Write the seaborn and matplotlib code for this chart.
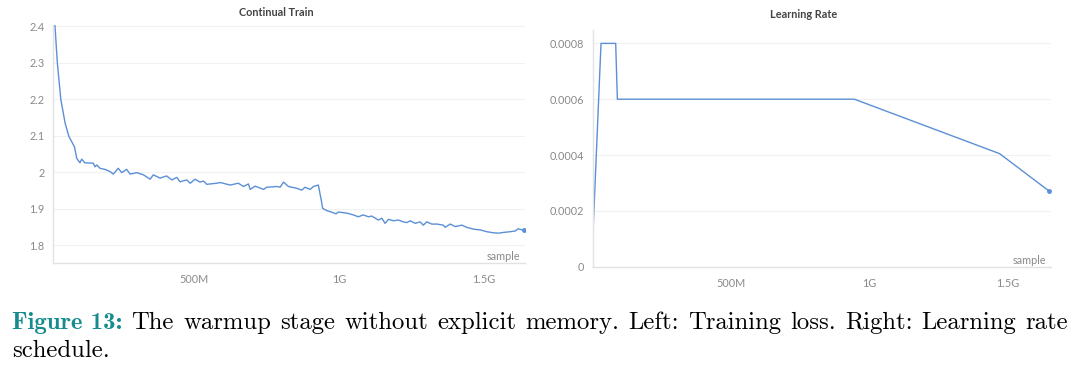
import matplotlib
matplotlib.use("Agg")
import matplotlib.pyplot as plt
import seaborn as sns
import pandas as pd

# ---------------- data (samples in G) ----------------
warm_x = [0.015, 0.020, 0.028, 0.040, 0.055, 0.068, 0.087, 0.095, 0.106, 0.112, 0.123, 0.152,
          0.158, 0.164, 0.175, 0.192, 0.210, 0.221, 0.238, 0.250, 0.267, 0.279, 0.302, 0.325,
          0.348, 0.359, 0.382, 0.405, 0.423, 0.440, 0.451, 0.474, 0.486, 0.503]
warm_y = [2.46, 2.40, 2.30, 2.20, 2.134, 2.098, 2.070, 2.038, 2.026, 2.036, 2.026, 2.025,
          2.015, 2.020, 2.011, 2.008, 2.002, 1.995, 2.011, 1.999, 2.008, 1.995, 1.999, 1.993,
          1.981, 1.993, 1.984, 1.990, 1.979, 1.986, 1.974, 1.979, 1.970, 1.981]
plat_x = [0.520, 0.532, 0.543, 0.578, 0.589, 0.624, 0.652, 0.670, 0.687, 0.693, 0.710, 0.739,
          0.750, 0.785, 0.796, 0.808, 0.825, 0.854, 0.871, 0.882, 0.900, 0.911, 0.928]
plat_y = [1.973, 1.976, 1.967, 1.970, 1.972, 1.965, 1.970, 1.961, 1.968, 1.953, 1.962, 1.953,
          1.959, 1.961, 1.959, 1.973, 1.961, 1.956, 1.951, 1.959, 1.953, 1.961, 1.965]
decay_x = [0.938, 0.943, 0.957, 0.980, 0.989, 0.997, 1.026, 1.049, 1.066, 1.083, 1.101, 1.112,
           1.135, 1.147, 1.158, 1.170, 1.187, 1.204, 1.221, 1.233, 1.245, 1.262, 1.279, 1.290,
           1.302, 1.319, 1.337, 1.359, 1.365, 1.383, 1.400, 1.423, 1.440, 1.463, 1.486, 1.509,
           1.532, 1.549, 1.566, 1.589, 1.607, 1.617, 1.636]
decay_y = [1.924, 1.901, 1.895, 1.889, 1.886, 1.891, 1.888, 1.883, 1.878, 1.883, 1.878, 1.880,
           1.869, 1.874, 1.860, 1.871, 1.867, 1.869, 1.864, 1.862, 1.867, 1.860, 1.864, 1.855,
           1.864, 1.858, 1.858, 1.855, 1.849, 1.858, 1.851, 1.855, 1.849, 1.844, 1.842, 1.837,
           1.834, 1.833, 1.835, 1.837, 1.839, 1.845, 1.841]

lr_x = [0.0, 0.030, 0.083, 0.089, 0.945, 1.469, 1.649]
lr_y = [0.000095, 0.0008, 0.0008, 0.0006, 0.0006, 0.000405, 0.00027]

x_ticks = [0.5, 1.0, 1.5]
x_labels = ["500M", "1G", "1.5G"]
loss_ticks = [1.8, 1.9, 2.0, 2.1, 2.2, 2.3, 2.4]
loss_labels = ["1.8", "1.9", "2", "2.1", "2.2", "2.3", "2.4"]
lr_ticks = [0.0, 0.0002, 0.0004, 0.0006, 0.0008]
lr_labels = ["0", "0.0002", "0.0004", "0.0006", "0.0008"]

titles = ["Continual Train", "Learning Rate"]
caption_head = "Figure 13:"
caption_words = ["The", "warmup", "stage", "without", "explicit", "memory.", "Left:",
                 "Training", "loss.", "Right:", "Learning", "rate"]
caption_line2 = "schedule."

# ---------------- style ----------------
sns.set_theme(style="white")
plt.rcParams["font.family"] = ["Lato", "DejaVu Sans"]

W, H = 1080, 366
fig = plt.figure(figsize=(W / 100, H / 100), dpi=100)

LINE = "#5b8fd6"
TICKC = "#8a8a8a"
GRIDC = "#f1f1f1"
SPINEC = "#e2e2e2"

loss_df = pd.DataFrame({"sample": warm_x + plat_x + decay_x,
                        "loss": warm_y + plat_y + decay_y})
lr_df = pd.DataFrame({"sample": lr_x, "lr": lr_y})


def px_axes(l, t, r, b):
    return fig.add_axes([l / W, 1 - b / H, (r - l) / W, (b - t) / H])


ax1 = px_axes(52.7, 25, 524.8, 262.7)
ax2 = px_axes(592.7, 30, 1051.4, 266.7)

sns.lineplot(data=loss_df, x="sample", y="loss", ax=ax1, color=LINE, linewidth=1.0)
ax1.plot(loss_df["sample"].iloc[-1], loss_df["loss"].iloc[-1], "o", ms=2.5, color=LINE)
sns.lineplot(data=lr_df, x="sample", y="lr", ax=ax2, color=LINE, linewidth=1.0)
ax2.plot(lr_df["sample"].iloc[-1], lr_df["lr"].iloc[-1], "o", ms=2.5, color=LINE)

ax1.set_xlim(0.012, 1.640)
ax1.set_ylim(1.752, 2.404)
ax2.set_xlim(0.0, 1.656)
ax2.set_ylim(0.0, 0.000848)

for ax, yt, yl in [(ax1, loss_ticks, loss_labels), (ax2, lr_ticks, lr_labels)]:
    ax.set_xticks(x_ticks)
    ax.set_xticklabels(x_labels)
    ax.set_yticks(yt)
    ax.set_yticklabels(yl)
    ax.set_xlabel("")
    ax.set_ylabel("")
    ax.grid(axis="y", color=GRIDC, linewidth=0.8)
    ax.set_axisbelow(True)
    for s in ["top", "right"]:
        ax.spines[s].set_visible(False)
    for s in ["left", "bottom"]:
        ax.spines[s].set_color(SPINEC)
        ax.spines[s].set_linewidth(1.0)
    ax.tick_params(axis="both", which="both", labelsize=7.8, colors=SPINEC,
                   labelcolor=TICKC, length=3, width=0.8, direction="out", pad=3)
    ax.tick_params(axis="x", pad=5)
    ax.annotate("sample", xy=(1, 0), xycoords="axes fraction", xytext=(-3.5, 4.5),
                textcoords="offset points", ha="right", va="center",
                fontsize=7.8, color=TICKC)

fig.text(276 / W, 1 - 12.5 / H, titles[0], ha="center", va="center",
         fontsize=7.8, fontweight="bold", color="#444444")
fig.text(804 / W, 1 - 15 / H, titles[1], ha="center", va="center",
         fontsize=7.8, fontweight="bold", color="#444444")

# ---------------- caption (justified first line) ----------------
FS = 17.8
y1 = 1 - 329 / H
y2 = 1 - 357 / H
renderer = fig.canvas.get_renderer()
items = [fig.text(0, y1, caption_head, fontsize=FS, family="cmb10", color="#178c8e",
                  va="baseline")]
for w in caption_words:
    items.append(fig.text(0, y1, w, fontsize=FS, family="cmr10", color="black",
                          va="baseline"))
widths = [t.get_window_extent(renderer).width for t in items]
x0, x1 = 12.0, 1068.0
gap = (x1 - x0 - sum(widths)) / (len(items) - 1)
xp = x0
for t, w in zip(items, widths):
    t.set_x(xp / W)
    xp += w + gap
fig.text(x0 / W, y2, caption_line2, fontsize=FS, family="cmr10", color="black",
         va="baseline")

fig.savefig("out.png", dpi=100, facecolor="white")
